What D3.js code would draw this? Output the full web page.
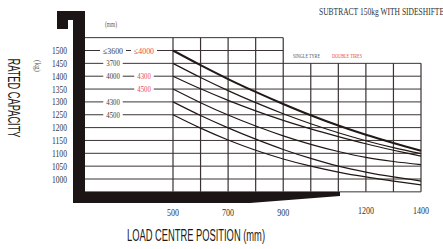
<!DOCTYPE html>
<html>
<head>
<meta charset="utf-8">
<script src="https://cdn.jsdelivr.net/npm/d3@7"></script>
<style>
  html, body { margin: 0; padding: 0; background: #fff; }
  svg { display: block; }
</style>
</head>
<body>
<div id="chart"></div>
<script>
// Load chart data
const loadCentres = [500, 600, 700, 800, 900, 1000, 1100, 1200, 1300, 1400];
const curve1500 = [1500, 1443, 1389, 1339, 1292, 1248, 1208, 1172, 1140, 1110];
const curve1450 = [1450, 1395, 1344, 1297, 1254, 1215, 1180, 1149, 1122, 1099];
const curve1400 = [1400, 1351, 1306, 1265, 1228, 1195, 1165, 1137, 1112, 1089];
const curve1350 = [1350, 1297, 1249, 1206, 1168, 1135, 1107, 1084, 1068, 1056];
const curve1300 = [1300, 1247, 1199, 1155, 1115, 1080, 1050, 1027, 1008, 992];
const curve1250 = [1250, 1198, 1152, 1112, 1078, 1050, 1027, 1008, 992, 977];

const capacityTicks = [1500, 1450, 1400, 1350, 1300, 1250, 1200, 1150, 1100, 1050, 1000];
const xTickLabels = [500, 700, 900, 1200, 1400];

const singleTyreMasts = ['≤3600', '3700', '4000', '4300', '4500'];
const singleTyreKg = [1500, 1450, 1400, 1300, 1250];
const doubleTyreMasts = ['≤4000', '4300', '4500'];
const doubleTyreKg = [1500, 1400, 1350];

const width = 443;
const height = 249;
const ink = '#221815';
const gridColor = '#3b3333';
const red = '#e8474c';
const numFont = '"Liberation Serif", "DejaVu Serif", serif';
const titleFont = '"Liberation Sans", "DejaVu Sans", sans-serif';

const svg = d3.select('#chart')
    .append('svg')
    .attr('width', width)
    .attr('height', height);

const x = d3.scaleLinear().domain([500, 1400]).range([173, 421]);
const y = d3.scaleLinear().domain([1000, 1500]).range([179, 50.5]);
const plotLeft = 84;

// Horizontal grid lines (top two rows stop at 900)
const hLevels = d3.range(950, 1551, 50);
svg.selectAll('.hgrid')
    .data(hLevels)
    .enter()
    .append('line')
    .attr('x1', plotLeft)
    .attr('x2', d => d >= 1500 ? x(900) : x(1400))
    .attr('y1', d => y(d))
    .attr('y2', d => y(d))
    .attr('stroke', gridColor)
    .attr('stroke-width', 1);

// Vertical grid lines
const vLevels = d3.range(500, 1401, 100);
svg.selectAll('.vgrid')
    .data(vLevels)
    .enter()
    .append('line')
    .attr('x1', d => x(d))
    .attr('x2', d => x(d))
    .attr('y1', d => d <= 900 ? y(1550) : y(1450))
    .attr('y2', y(950))
    .attr('stroke', gridColor)
    .attr('stroke-width', 1.2);

// Mast height labels on the left rows
function mastLabels(names, kgs, cx, color) {
    const g = svg.append('g');
    names.forEach((name, i) => {
        const w = name.length > 4 ? 20 : 13.5;
        g.append('rect')
            .attr('x', cx - w / 2 - 3)
            .attr('y', y(kgs[i]) - 4)
            .attr('width', w + 6)
            .attr('height', 8)
            .attr('fill', '#fff');
        g.append('text')
            .attr('x', cx)
            .attr('y', y(kgs[i]) + 3)
            .attr('text-anchor', 'middle')
            .attr('textLength', w)
            .attr('lengthAdjust', 'spacingAndGlyphs')
            .style('font-family', numFont)
            .style('font-size', '9px')
            .style('fill', color)
            .text(name);
    });
}
mastLabels(singleTyreMasts, singleTyreKg, 113, '#3a3a3a');
mastLabels(doubleTyreMasts, doubleTyreKg, 144, red);

// Capacity curves
const series = [curve1500, curve1450, curve1400, curve1350, curve1300, curve1250];
const line = d3.line()
    .x((d, i) => x(loadCentres[i]))
    .y(d => y(d))
    .curve(d3.curveCatmullRom);

svg.selectAll('.curve')
    .data(series)
    .enter()
    .append('path')
    .attr('d', d => line(d))
    .attr('fill', 'none')
    .attr('stroke', ink)
    .attr('stroke-width', (d, i) => i === 0 ? 2 : 1.2);

// Black frame (hook at top, bar at bottom)
svg.append('path')
    .attr('d', 'M57,11 H85 V192 H340 V196 L250,203 H73 V20 H68 V29 H57 Z')
    .attr('fill', '#1c1515');

// Y tick labels
svg.selectAll('.ylab')
    .data(capacityTicks)
    .enter()
    .append('text')
    .attr('x', 67)
    .attr('y', d => y(d) + 3.5)
    .attr('text-anchor', 'end')
    .attr('textLength', 15)
    .attr('lengthAdjust', 'spacingAndGlyphs')
    .style('font-family', numFont)
    .style('font-size', '10px')
    .style('fill', '#333')
    .text(d => d);

// X tick labels
svg.selectAll('.xlab')
    .data(xTickLabels)
    .enter()
    .append('text')
    .attr('x', d => x(d))
    .attr('y', d => d >= 1200 ? 214 : 216)
    .attr('text-anchor', 'middle')
    .attr('textLength', d => d >= 1000 ? 16 : 12)
    .attr('lengthAdjust', 'spacingAndGlyphs')
    .style('font-family', numFont)
    .style('font-size', '10px')
    .style('fill', '#333')
    .text(d => d);

// Axis titles
svg.append('text')
    .attr('transform', 'translate(8,98) rotate(90)')
    .attr('text-anchor', 'middle')
    .attr('textLength', 79)
    .attr('lengthAdjust', 'spacingAndGlyphs')
    .style('font-family', titleFont)
    .style('font-size', '16px')
    .style('fill', ink)
    .text('RATED CAPACITY');

svg.append('text')
    .attr('transform', 'translate(35,66) rotate(90)')
    .attr('text-anchor', 'middle')
    .attr('textLength', 12)
    .attr('lengthAdjust', 'spacingAndGlyphs')
    .style('font-family', numFont)
    .style('font-size', '8px')
    .style('fill', '#555')
    .text('(kg)');

svg.append('text')
    .attr('x', 127)
    .attr('y', 241)
    .attr('textLength', 138)
    .attr('lengthAdjust', 'spacingAndGlyphs')
    .style('font-family', titleFont)
    .style('font-size', '16px')
    .style('fill', ink)
    .text('LOAD CENTRE POSITION (mm)');

svg.append('text')
    .attr('x', 111)
    .attr('y', 27)
    .attr('text-anchor', 'middle')
    .attr('textLength', 12)
    .attr('lengthAdjust', 'spacingAndGlyphs')
    .style('font-family', numFont)
    .style('font-size', '8px')
    .style('fill', '#555')
    .text('(mm)');

svg.append('text')
    .attr('x', 319)
    .attr('y', 15)
    .attr('textLength', 130)
    .attr('lengthAdjust', 'spacingAndGlyphs')
    .style('font-family', numFont)
    .style('font-size', '11px')
    .style('fill', '#333')
    .text('SUBTRACT 150kg WITH SIDESHIFTER');

// Tyre legend
svg.append('text')
    .attr('x', 293)
    .attr('y', 58)
    .attr('textLength', 27)
    .attr('lengthAdjust', 'spacingAndGlyphs')
    .style('font-family', numFont)
    .style('font-size', '6.5px')
    .style('fill', '#555')
    .text('SINGLE TYRE');

svg.append('text')
    .attr('x', 332)
    .attr('y', 58)
    .attr('textLength', 30)
    .attr('lengthAdjust', 'spacingAndGlyphs')
    .style('font-family', numFont)
    .style('font-size', '6.5px')
    .style('fill', red)
    .text('DOUBLE TIRES');
</script>
</body>
</html>
